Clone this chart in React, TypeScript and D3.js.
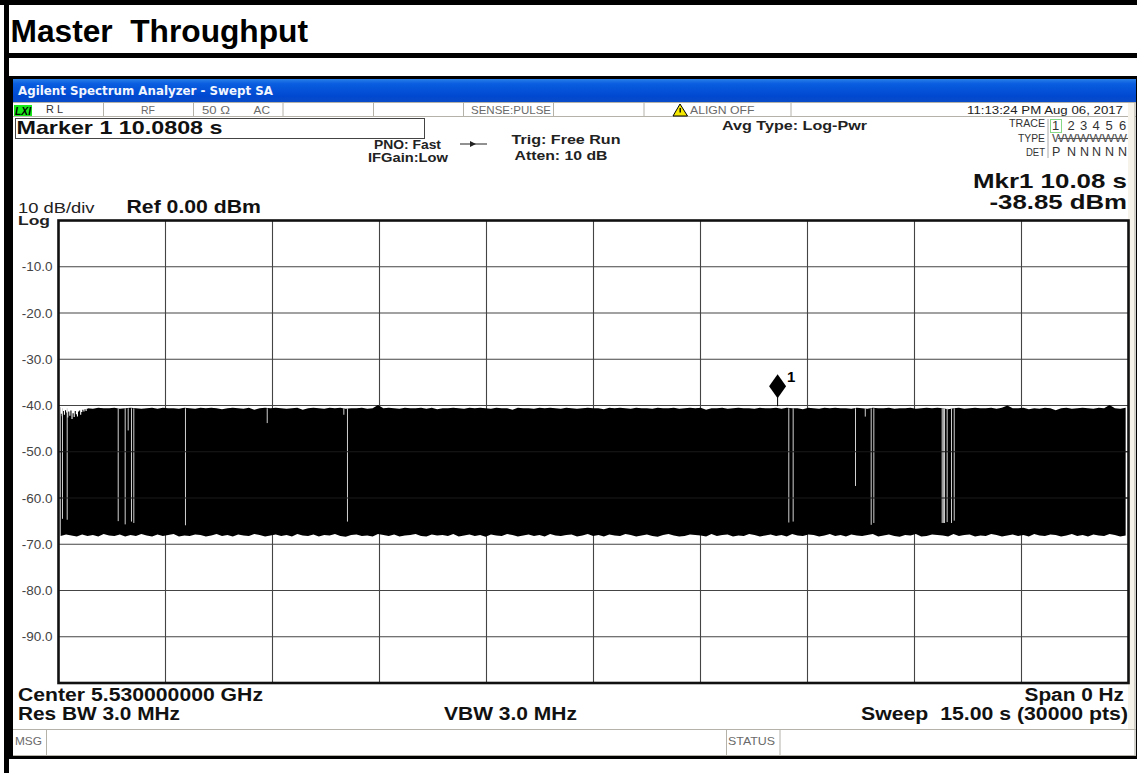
import React from "react";
import * as d3 from "d3";

const W = 1137;
const H = 773;

const yTickValues = [-10, -20, -30, -40, -50, -60, -70, -80, -90];
const xDivisions = [1.5, 3, 4.5, 6, 7.5, 9, 10.5, 12, 13.5];
const sweepSeconds = 15;
const refLevel = 0;
const floorLevel = -100;
const markerTime = 10.0808;
const markerLevel = -38.85;

// upper envelope of the black trace, dBm, left to right
const traceTop = [
  -40.4, -40.4, -40.4, -40.4, -40.4, -40.6, -40.7, -40.5, -40.6, -40.6, -40.5, -40.7, -40.6, -40.5, -40.6, -40.7,
  -40.6, -40.5, -40.7, -40.5, -40.6, -40.6, -40.7, -40.5, -40.6, -40.7, -40.5, -40.6, -40.5, -40.6, -40.8, -40.6,
  -40.5, -40.6, -40.7, -40.5, -40.9, -40.6, -40.5, -40.6, -40.5, -40.6, -40.7, -40.6, -40.5, -40.9, -40.6, -40.5,
  -40.6, -40.7, -40.5, -40.6, -40.5, -40.7, -40.6, -40.6, -40.5, -40.7, -40.6, -39.9, -40.6, -40.5, -40.6, -40.7,
  -40.5, -40.6, -40.6, -40.5, -40.7, -40.5, -40.8, -40.6, -40.6, -40.5, -40.6, -40.7, -40.5, -40.6, -40.5, -40.6,
  -40.7, -40.5, -40.6, -40.6, -40.9, -40.5, -40.6, -40.6, -40.7, -40.5, -40.6, -40.5, -40.6, -40.7, -40.5, -40.6,
  -40.7, -40.6, -40.5, -40.6, -40.6, -40.8, -40.5, -40.6, -40.5, -40.6, -40.7, -40.5, -40.6, -40.6, -40.7, -40.5,
  -40.6, -40.6, -40.5, -40.7, -40.6, -40.5, -40.6, -40.5, -40.9, -40.6, -40.6, -40.5, -40.7, -40.6, -40.5, -40.6,
  -40.6, -40.7, -40.5, -40.6, -40.6, -40.5, -40.7, -40.5, -40.6, -40.6, -40.8, -40.5, -40.6, -40.7, -40.5, -40.6,
  -40.5, -40.6, -40.6, -40.7, -40.5, -40.6, -40.7, -40.5, -40.6, -40.6, -40.5, -40.7, -40.6, -40.6, -40.5, -40.7,
  -40.6, -40.5, -40.6, -40.5, -40.6, -40.8, -40.6, -40.5, -40.7, -40.6, -40.5, -40.6, -40.6, -40.5, -40.7, -40.5,
  -40.0, -40.6, -40.6, -40.5, -40.8, -40.6, -40.7, -40.5, -40.6, -41.0, -40.6, -40.5, -40.7, -40.6, -40.5, -40.6,
  -40.7, -40.5, -40.6, -39.9, -40.6, -40.7, -40.5,
];

// first instants of the sweep, where the trace top is lower and ragged, dBm
const onsetTop = [
  -41.8, -42.3, -41.2, -42.0, -41.0, -41.5, -42.6, -41.3, -42.2, -41.1, -42.9, -41.7, -42.5, -41.2, -41.9, -42.4,
  -41.3, -41.1, -42.0, -41.4, -40.9, -41.3, -40.8, -41.2, -40.7, -40.8,
];

// lower envelope of the black trace, dBm, left to right
const traceBottom = [
  -68.2, -67.9, -68.1, -68.3, -67.9, -68.2, -68.0, -68.3, -67.8, -68.1, -68.2, -67.9, -68.3, -68.0, -68.2, -67.8,
  -68.1, -68.3, -67.9, -68.2, -68.0, -67.8, -68.3, -68.1, -68.2, -67.9, -68.0, -68.3, -68.1, -67.8, -68.2, -68.0,
  -68.3, -67.9, -68.1, -68.2, -67.8, -68.0, -68.3, -68.1, -67.9, -68.2, -68.0, -68.3, -67.8, -68.1, -68.2, -67.9,
  -68.3, -68.0, -68.1, -67.8, -68.2, -68.4, -68.0, -67.9, -68.2, -68.1, -68.3, -67.8, -68.0, -68.2, -67.9, -68.3,
  -68.1, -68.0, -67.8, -68.2, -68.3, -67.9, -68.1, -68.0, -68.2, -67.8, -68.3, -68.1, -67.9, -68.2, -68.0, -68.4,
  -67.9, -68.1, -68.2, -67.8, -68.0, -68.3, -68.1, -67.9, -68.2, -68.0, -68.3, -67.8, -68.1, -68.2, -68.0, -67.9,
  -68.3, -68.1, -67.8, -68.2, -68.0, -68.3, -67.9, -68.1, -68.2, -67.8, -68.0, -68.3, -68.1, -67.9, -68.2, -68.4,
  -68.0, -67.8, -68.1, -68.3, -68.2, -67.9, -68.0, -68.1, -68.3, -67.8, -68.2, -68.0, -67.9, -68.3, -68.1, -68.2,
  -67.8, -68.0, -68.3, -68.1, -67.9, -68.2, -68.0, -68.3, -67.8, -68.1, -68.2, -67.9, -68.0, -68.3, -68.1, -67.8,
  -68.2, -68.0, -68.3, -67.9, -68.1, -68.2, -68.0, -67.8, -68.3, -68.1, -67.9, -68.2, -68.4, -68.0, -68.1, -67.8,
  -68.3, -68.2, -67.9, -68.0, -68.1, -68.3, -67.8, -68.2, -68.0, -67.9, -68.3, -68.1, -68.2, -67.8, -68.0, -68.3,
  -68.1, -67.9, -68.2, -68.0, -68.3, -67.8, -68.1, -68.2, -67.9, -68.0, -68.3, -68.1, -67.8, -68.2, -68.0, -68.3,
  -67.9, -68.1, -68.2, -67.8, -68.0, -68.3, -68.1,
];

// dropouts in the trace: time (s), lowest level (dBm)
const gapTimes = [0.056, 0.122, 0.837, 0.935, 0.977, 1.023, 1.056, 1.78, 2.926, 4.051, 4.0, 10.238, 10.299, 11.173, 11.31, 11.393, 11.43, 12.388, 12.404, 12.421, 12.458, 12.519, 12.557];
const gapLevels = [-64.5, -64.7, -65.0, -65.7, -45.4, -65.1, -65.4, -65.9, -43.8, -65.1, -42.0, -65.3, -65.1, -57.4, -42.4, -65.8, -65.4, -65.4, -65.4, -65.4, -65.2, -65.4, -64.9];

const font = "'Liberation Sans', Arial, sans-serif";
const wide = "'DejaVu Sans', Verdana, sans-serif";

type TP = {
  x: number; y: number; w?: number; s: number; b?: boolean; c?: string; f?: string; i?: boolean;
  children: React.ReactNode;
};
const T = ({ x, y, w, s, b, c, f, i, children }: TP) => (
  <text
    x={x}
    y={y}
    fontSize={s}
    fontFamily={f || font}
    fontWeight={b ? 700 : 400}
    fontStyle={i ? "italic" : "normal"}
    fill={c || "#000"}
    textLength={w}
    lengthAdjust={w ? "spacingAndGlyphs" : undefined}
    style={{ whiteSpace: "pre" }}
  >
    {children}
  </text>
);

const statusDividers = [103.5, 193.5, 283, 373.5, 463.5, 553.5, 644, 791];
const traceDigits = ["1", "2", "3", "4", "5", "6"];
const digitX = [1052, 1067.5, 1080, 1092.5, 1105.5, 1119];
const detLetters = ["P", "N", "N", "N", "N", "N"];
const detX = [1052, 1067, 1080, 1092, 1105, 1118];

export default function App() {
  const x = d3.scaleLinear().domain([0, sweepSeconds]).range([58.5, 1128.5]);
  const y = d3.scaleLinear().domain([refLevel, floorLevel]).range([220.5, 683]);
  const idx = d3.scaleLinear().domain([0, traceTop.length - 1]).range([0.03, 14.96]);
  const onsetIdx = d3.scaleLinear().domain([0, onsetTop.length - 1]).range([0.03, 0.41]);

  const area = d3
    .area<number>()
    .x((_, i) => x(idx(i)))
    .y0((_, i) => y(traceBottom[i]))
    .y1((d) => y(d))
    .curve(d3.curveLinear);

  const onsetArea = d3
    .area<number>()
    .x((_, i) => x(onsetIdx(i)))
    .y0(y(-40.3))
    .y1((d) => y(d))
    .curve(d3.curveStepAfter);

  const mx = x(markerTime);
  const my = y(markerLevel);
  const grey = "#6a6a6a";

  return (
    <svg
      width={W}
      height={H}
      viewBox={`0 0 ${W} ${H}`}
      style={{ position: "absolute", left: 0, top: 0, display: "block", background: "#fff" }}
    >
      <defs>
        <linearGradient id="bar" x1="0" x2="0" y1="0" y2="1">
          <stop offset="0" stopColor="#2a7fe8" />
          <stop offset="0.2" stopColor="#0a5ee0" />
          <stop offset="0.75" stopColor="#0048d0" />
          <stop offset="1" stopColor="#0a4cc8" />
        </linearGradient>
      </defs>

      {/* page frame */}
      <rect x={0} y={0} width={W} height={5} fill="#000" />
      <rect x={4} y={0} width={5} height={H} fill="#000" />
      <rect x={9} y={53} width={W - 9} height={5} fill="#000" />
      <rect x={9} y={76} width={W - 9} height={3} fill="#000" />
      <rect x={9} y={76} width={4} height={683} fill="#000" />
      <rect x={9} y={756} width={W - 9} height={3} fill="#000" />
      <rect x={1136} y={79} width={1} height={680} fill="#000" />
      <T x={10.5} y={42} w={297.5} s={31} b>Master  Throughput</T>

      {/* window */}
      <rect x={13} y={79} width={1123} height={23} fill="url(#bar)" />
      <T x={18} y={95} w={255} s={12} b c="#f2f6ff" f={wide}>Agilent Spectrum Analyzer - Swept SA</T>

      {/* status row */}
      <line x1={13} x2={1136} y1={102.5} y2={102.5} stroke="#b5b2aa" />
      <line x1={13} x2={1136} y1={116.5} y2={116.5} stroke="#b5b2aa" />
      {statusDividers.map((d) => (
        <line key={d} x1={d} x2={d} y1={103} y2={116} stroke="#b5b2aa" />
      ))}
      <rect x={14} y={105} width={18} height={11} fill="#18e818" />
      <T x={15} y={115} w={16} s={11} b i>LXI</T>
      <T x={46} y={113} w={17} s={11} c="#333">R L</T>
      <T x={141} y={114} w={14} s={11} c={grey}>RF</T>
      <T x={202} y={114} w={28} s={11} c={grey}>50 Ω</T>
      <T x={253.5} y={114} w={16.5} s={11} c={grey}>AC</T>
      <T x={471} y={114} w={80} s={11} c={grey}>SENSE:PULSE</T>
      <path d="M680 104 L687.5 116 L673 116 Z" fill="#f5e800" stroke="#000" strokeWidth={1} />
      <rect x={679.5} y={108} width={1.4} height={4.5} fill="#000" />
      <T x={690} y={114} w={64.5} s={11} c={grey}>ALIGN OFF</T>
      <T x={967} y={114} w={156} s={11.5} c="#222">11:13:24 PM Aug 06, 2017</T>

      {/* settings */}
      <rect x={15.5} y={118.5} width={409} height={20} fill="#fff" stroke="#444" />
      <T x={16.5} y={134} w={206} s={19} b c="#111">Marker 1 10.0808 s</T>
      <T x={374} y={149} w={67} s={12.5} b c="#222">PNO: Fast</T>
      <T x={368} y={162} w={80} s={12.5} b c="#222">IFGain:Low</T>
      <line x1={460} x2={487} y1={144} y2={144} stroke="#222" />
      <path d="M470 141 L476 144 L470 147 Z" fill="#222" />
      <T x={511.5} y={144} w={109} s={13} b c="#222">Trig: Free Run</T>
      <T x={514.5} y={160} w={93} s={13} b c="#222">Atten: 10 dB</T>
      <T x={722} y={130} w={145} s={13} b c="#222">Avg Type: Log-Pwr</T>

      {/* trace table */}
      <T x={1009} y={127} w={36} s={11} c="#333">TRACE</T>
      <T x={1018} y={142} w={27} s={11} c="#333">TYPE</T>
      <T x={1026} y={156} w={19} s={11} c="#333">DET</T>
      <line x1={1048} x2={1048} y1={119} y2={158} stroke="#aaa" />
      <rect x={1050.5} y={119.5} width={11} height={13} fill="none" stroke="#86d886" />
      {traceDigits.map((d, i) => (
        <T key={d} x={digitX[i]} y={129.5} s={13} c="#333">{d}</T>
      ))}
      <T x={1052} y={142} w={75} s={11} c="#555">WWWWWW</T>
      <line x1={1058} x2={1128} y1={138.5} y2={138.5} stroke="#555" />
      {detLetters.map((d, i) => (
        <T key={i} x={detX[i]} y={155.5} s={12.5} c="#333">{d}</T>
      ))}

      {/* readouts */}
      <T x={973} y={188} w={154} s={21} b c="#111">Mkr1 10.08 s</T>
      <T x={989.5} y={209} w={137.5} s={21} b c="#111">-38.85 dBm</T>
      <T x={18} y={212.5} w={76.5} s={14} c="#222">10 dB/div</T>
      <T x={18} y={224.5} w={32} s={13} c="#222" b>Log</T>
      <T x={126.5} y={212.5} w={134.5} s={18} b c="#111">Ref 0.00 dBm</T>

      {/* plot */}
      <rect x={1128} y={103} width={7} height={627} fill="#f6f4ea" />
      <line x1={1135} x2={1135} y1={103} y2={756} stroke="#a8a59c" />
      {yTickValues.map((v) => (
        <g key={v}>
          <line x1={x(0)} x2={x(sweepSeconds)} y1={y(v)} y2={y(v)} stroke="#444" strokeWidth={1.1} />
          <text x={52.5} y={y(v) + 4.5} textAnchor="end" fontSize={13.5} fontFamily={font} fill="#444">
            {v.toFixed(1)}
          </text>
        </g>
      ))}
      {xDivisions.map((v) => (
        <line key={v} x1={x(v)} x2={x(v)} y1={y(0)} y2={y(floorLevel)} stroke="#444" strokeWidth={1.1} />
      ))}

      <path d={area(traceTop) || ""} fill="#000" />
      <path d={onsetArea(onsetTop) || ""} fill="#fff" />
      {gapTimes.map((t, i) => (
        <line key={i} x1={x(t)} x2={x(t)} y1={y(-40.6)} y2={y(gapLevels[i])} stroke="#d0d0d0" strokeWidth={1} />
      ))}
      {yTickValues
        .filter((v) => v < -40 && v > -70)
        .map((v) => (
          <line key={v} x1={x(0)} x2={x(sweepSeconds)} y1={y(v)} y2={y(v)} stroke="#1a1a1a" strokeWidth={1} />
        ))}
      <rect x={x(0)} y={y(0)} width={x(sweepSeconds) - x(0)} height={y(floorLevel) - y(0)} fill="none" stroke="#111" strokeWidth={2.6} />

      {/* marker */}
      <line x1={mx} x2={mx} y1={my - 3} y2={my + 6} stroke="#000" />
      <path d={`M${mx} ${my - 26} L${mx + 8.5} ${my - 14} L${mx} ${my - 2} L${mx - 8.5} ${my - 14} Z`} fill="#000" />
      <T x={787} y={381.5} s={15} b>1</T>

      {/* footer */}
      <T x={18} y={701} w={245} s={18} b c="#111">Center 5.530000000 GHz</T>
      <T x={18} y={720} w={162} s={18} b c="#111">Res BW 3.0 MHz</T>
      <T x={444} y={720} w={133} s={18} b c="#111">VBW 3.0 MHz</T>
      <T x={1024.5} y={701} w={99.5} s={18} b c="#111">Span 0 Hz</T>
      <T x={861} y={720} w={267} s={18} b c="#111">Sweep  15.00 s (30000 pts)</T>

      {/* message row */}
      <line x1={13} x2={1136} y1={729.5} y2={729.5} stroke="#b5b2aa" />
      <line x1={13} x2={1136} y1={755.5} y2={755.5} stroke="#b5b2aa" />
      <line x1={46.5} x2={46.5} y1={730} y2={755} stroke="#b5b2aa" />
      <line x1={726.5} x2={726.5} y1={730} y2={755} stroke="#b5b2aa" />
      <line x1={780} x2={780} y1={730} y2={755} stroke="#b5b2aa" />
      <T x={15} y={745} w={27} s={11} c={grey}>MSG</T>
      <T x={728} y={745} w={47} s={11} c={grey}>STATUS</T>
    </svg>
  );
}
